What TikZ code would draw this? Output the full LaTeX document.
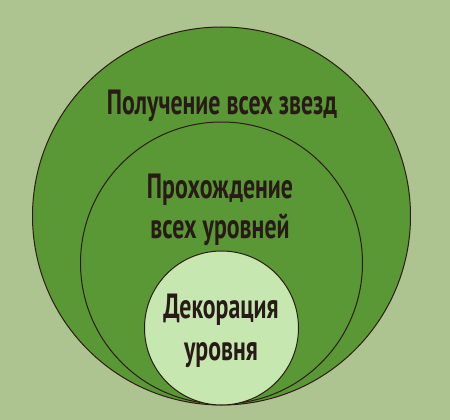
\documentclass[tikz,border=0pt]{standalone}
\usepackage{fontspec}
\setmainfont{PT Sans}[BoldFont={* Bold},BoldFeatures={FakeStretch=0.68}]
\definecolor{bgc}{RGB}{174,196,144}
\definecolor{darkg}{RGB}{90,152,54}
\definecolor{lightg}{RGB}{198,232,176}
\definecolor{edge}{RGB}{45,28,20}
\definecolor{txt}{RGB}{40,26,22}
\begin{document}
\begin{tikzpicture}[x=1pt,y=-1pt,
  ring/.style={circle,draw=edge,line width=1pt,inner sep=0pt},
  lab/.style={text=txt,font=\bfseries\fontsize{35}{40}\selectfont,align=center}]
\fill[bgc] (0,0) rectangle (450,420);
\useasboundingbox (0,0) rectangle (450,420);
\node[ring,fill=darkg,minimum size=378pt] (outer) at (221.5,216) {};
\node[ring,fill=darkg,minimum size=282pt] (middle) at (221.5,263) {};
\node[ring,fill=lightg,minimum size=154pt] (inner) at (221.5,328) {};
\node[lab] (t1) at (222,106) {Получение всех звезд};
\node[lab] (t2) at (220,210) {Прохождение\\всех уровней};
\node[lab] (t3) at (221,331) {Декорация\\[2pt]уровня};
\end{tikzpicture}
\end{document}
